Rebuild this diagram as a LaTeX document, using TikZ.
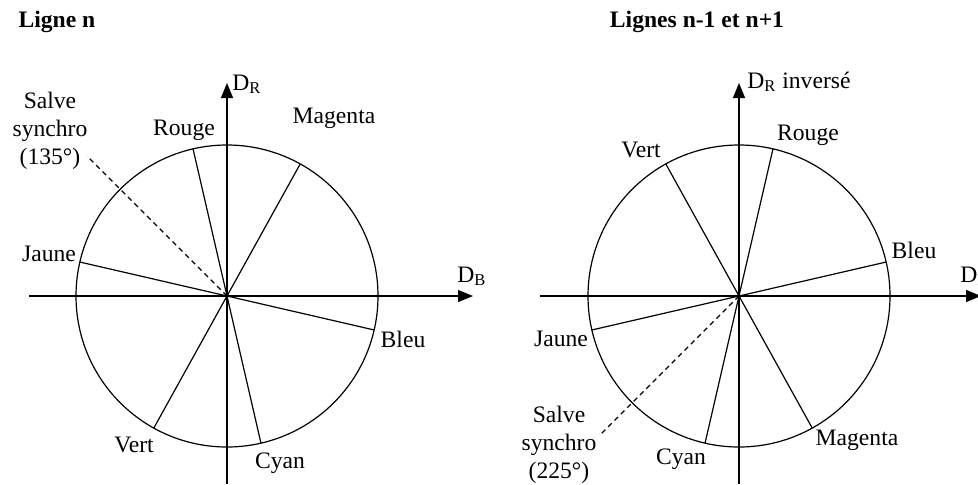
\documentclass[tikz,border=0pt]{standalone}
\usepackage{fontspec}
\setmainfont{Liberation Serif}
\usetikzlibrary{arrows.meta,calc}
\tikzset{
  lab/.style   = {inner sep=0pt, font=\fontsize{11.8}{14}\selectfont},
  titre/.style = {inner sep=0pt, font=\fontsize{11.8}{14}\selectfont\bfseries},
  trait/.style = {line width=0.6pt},
  axe/.style   = {line width=0.6pt, -{Triangle[length=7.5pt,width=6pt]}},
  salve/.style = {line width=0.6pt, dash pattern=on 2.5pt off 2pt},
}

\begin{document}
\begin{tikzpicture}[x=0.5pt,y=0.5pt]
  \useasboundingbox (0,0) rectangle (978,484);
  % Ligne n
  \coordinate (cL) at (227,188);
  \coordinate (LxW) at (29,188);
  \coordinate (LxE) at (473,188);
  \coordinate (LyS) at (227,0);
  \coordinate (LyN) at (227,401);
  \draw[trait] (cL) circle[radius=75.5pt];
  \draw[axe] (LxW) -- (LxE);
  \draw[axe] (LyS) -- (LyN);
  \foreach \a/\n in {103/rouge,61/magenta,347/bleu,283/cyan,241/vert,167/jaune}
    {\coordinate (L\n) at ($(cL)+(\a:75.5pt)$);
     \draw[trait] (cL) -- (L\n);}
  \coordinate (Lsalve) at ($(cL)+(135:99pt)$);
  \draw[salve] (cL) -- (Lsalve);
  \node[titre] (tL) at (57,462) {Ligne n};
  \node[lab,anchor=base west] (dRL) at (232,394) {D\textsubscript{R}};
  \node[lab,anchor=base west] (dBL) at (457,202) {D\textsubscript{B}};
  \node[lab,align=center] (sL) at (50,353) {Salve\\synchro\\(135°)};
  \foreach \x/\y/\n/\lab in {184/354/rouge/Rouge,334/366/magenta/Magenta,
      49/230/jaune/Jaune,403/145/bleu/Bleu,134/39/vert/Vert,280/21/cyan/Cyan}
    {\node[lab] (nL\n) at (\x,\y) {\lab};}

  % Lignes n-1 et n+1
  \coordinate (cR) at (739,188);
  \coordinate (RxW) at (540,188);
  \coordinate (RxE) at (981,188);
  \coordinate (RyS) at (739,0);
  \coordinate (RyN) at (739,401);
  \draw[trait] (cR) circle[radius=75.5pt];
  \draw[axe] (RxW) -- (RxE);
  \draw[axe] (RyS) -- (RyN);
  \foreach \a/\n in {77/rouge,119/vert,13/bleu,193/jaune,299/magenta,257/cyan}
    {\coordinate (R\n) at ($(cR)+(\a:75.5pt)$);
     \draw[trait] (cR) -- (R\n);}
  \coordinate (Rsalve) at ($(cR)+(225:98.5pt)$);
  \draw[salve] (cR) -- (Rsalve);
  \node[titre] (tR) at (697,462) {Lignes n-1 et n+1};
  \node[lab,anchor=base west] (dRR) at (747,396) {D\textsubscript{R} inversé};
  \node[lab,anchor=base west] (dBR) at (960,202) {D\textsubscript{B}};
  \node[lab,align=center] (sR) at (559,39) {Salve\\synchro\\(225°)};
  \foreach \x/\y/\n/\lab in {808/349/rouge/Rouge,641/334/vert/Vert,
      914/234/bleu/Bleu,561/145/jaune/Jaune,857/44/magenta/Magenta,681/25/cyan/Cyan}
    {\node[lab] (nR\n) at (\x,\y) {\lab};}
\end{tikzpicture}
\end{document}
